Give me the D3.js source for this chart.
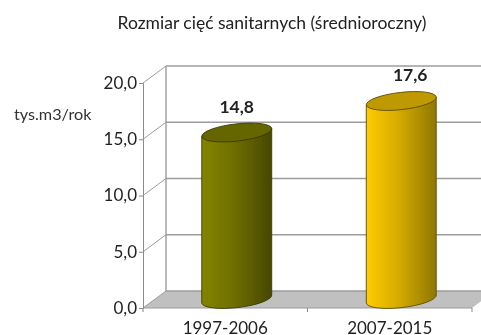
<!DOCTYPE html>
<html><head><meta charset="utf-8">
<script src="https://cdnjs.cloudflare.com/ajax/libs/d3/7.8.5/d3.min.js"></script>
<style>html,body{margin:0;padding:0;background:#fff;overflow:hidden}svg{display:block}</style>
</head><body><svg id="c" width="481" height="335"></svg>
<script>
const title = "Rozmiar cięć sanitarnych (średnioroczny)";
const unit = "tys.m3/rok";
const categories = ["1997-2006", "2007-2015"];
const values = [14.8, 17.6];
const tickValues = [0, 5, 10, 15, 20];
const fills = [
  {l:"#848400", m:"#6f6f00", r:"#474700", top:"#666600", edge:"#3a3a00"},
  {l:"#ffcc00", m:"#d6ac00", r:"#8f7700", top:"#bf9900", edge:"#5f4c00"}
];
const fmt = v => d3.format(".1f")(v).replace(".", ",");
const svg = d3.select("#c");
const font = "Lato,'Open Sans',sans-serif";
const depthX = 23, depthY = 17;
const y = d3.scaleLinear().domain([0, 20]).range([308, 83]);
const x = d3.scaleBand().domain(categories).range([143, 472]);
const gridColor = "#9c9c9c";
const defs = svg.append("defs");
defs.append("filter").attr("id","soft").attr("x","-5%").attr("y","-5%").attr("width","110%").attr("height","110%")
  .append("feGaussianBlur").attr("stdDeviation",0.4);
fills.forEach((f,i)=>{
  const g = defs.append("linearGradient").attr("id","g"+i);
  g.append("stop").attr("offset","0%").attr("stop-color",f.l);
  g.append("stop").attr("offset","45%").attr("stop-color",f.m);
  g.append("stop").attr("offset","100%").attr("stop-color",f.r);
});
const root = svg.append("g").attr("filter","url(#soft)");
const [x0, x1] = x.range();
// floor
root.append("polygon").attr("fill","#c0c0c0")
  .attr("points",[[x0,y(0)],[x1,y(0)],[x1+depthX,y(0)-depthY],[x0+depthX,y(0)-depthY]].map(p=>p.join(",")).join(" "));
// back wall gridlines and left-wall diagonals
root.selectAll("line.grid").data(tickValues).join("line").attr("class","grid")
  .attr("x1",x0+depthX).attr("x2",x1+depthX)
  .attr("y1",d=>y(d)-depthY).attr("y2",d=>y(d)-depthY)
  .attr("stroke",gridColor).attr("stroke-width",1.4);
root.selectAll("line.diag").data(tickValues).join("line").attr("class","diag")
  .attr("x1",x0).attr("x2",x0+depthX)
  .attr("y1",d=>y(d)).attr("y2",d=>y(d)-depthY)
  .attr("stroke",gridColor).attr("stroke-width",1);
root.append("line").attr("x1",x0+depthX).attr("x2",x0+depthX)
  .attr("y1",y(20)-depthY).attr("y2",y(0)-depthY).attr("stroke",gridColor).attr("stroke-width",1.4);
// front floor edge + category ticks
root.append("line").attr("x1",x0).attr("x2",x1).attr("y1",y(0)).attr("y2",y(0)).attr("stroke",gridColor).attr("stroke-width",1.2);
root.selectAll("line.cat").data([x0,x0+(x1-x0)/2,x1]).join("line").attr("class","cat")
  .attr("x1",d=>d).attr("x2",d=>d).attr("y1",y(0)).attr("y2",y(0)+4).attr("stroke","#888");
// left axis
const ax = root.append("g").attr("transform",`translate(${x0},0)`)
  .call(d3.axisLeft(y).tickValues(tickValues).tickFormat(fmt).tickSize(4).tickPadding(2));
ax.selectAll("path,line").attr("stroke","#8a8a8a");
ax.selectAll("text").attr("font-family",font).attr("font-size",17).attr("fill","#222");
// cylinders
const rx = 35.2, ry = 8.6, rot = -6.5, baseY = y(0) - 9;
const scaleStep = (y(0)-y(1));
const halfDepth = depthX/2;
categories.forEach((c,i)=>{
  const mid = x(c) + x.bandwidth()/2;
  const cx = mid + halfDepth;
  const topY = baseY - values[i]*scaleStep;
  const dy = rx*Math.sin(-rot*Math.PI/180), dx = rx*Math.cos(-rot*Math.PI/180);
  const g = root.append("g");
  g.append("path")
    .attr("d",`M${cx-dx},${topY+dy} L${cx-dx},${baseY+dy} A${rx},${ry} ${rot} 0 0 ${cx+dx},${baseY-dy} L${cx+dx},${topY-dy} Z`)
    .attr("fill",`url(#g${i})`).attr("stroke",fills[i].edge).attr("stroke-width",0.9);
  g.append("ellipse").attr("cx",cx).attr("cy",topY).attr("rx",rx).attr("ry",ry)
    .attr("transform",`rotate(${rot} ${cx} ${topY})`)
    .attr("fill",fills[i].top).attr("stroke",fills[i].edge).attr("stroke-width",0.9);
  root.append("text").attr("x",cx + (i===1 ? 9 : 0)).attr("y",topY-20).attr("text-anchor","middle")
    .attr("font-family",font).attr("font-weight",700).attr("font-size",17.5).attr("fill","#222").text(fmt(values[i]));
  root.append("text").attr("x",mid).attr("y",334).attr("text-anchor","middle")
    .attr("font-family",font).attr("font-size",17).attr("fill","#222").text(c);
});
root.append("text").attr("x",272).attr("y",29).attr("text-anchor","middle")
  .attr("font-family",font).attr("font-size",17.5).attr("fill","#222").text(title);
root.append("text").attr("x",14).attr("y",120)
  .attr("font-family",font).attr("font-size",16.2).attr("fill","#333").text(unit);
</script></body></html>
